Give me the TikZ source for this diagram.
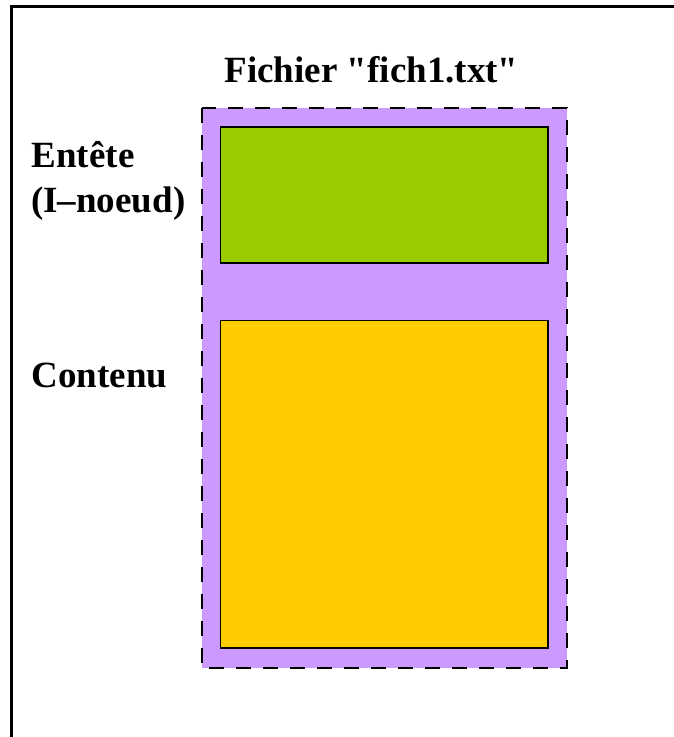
\documentclass[tikz,border=0pt]{standalone}
\usepackage{fontspec}
\setmainfont{Liberation Serif}
\definecolor{fichfond}{RGB}{204,153,255}
\definecolor{entetefond}{RGB}{153,204,0}
\definecolor{contenufond}{RGB}{255,204,0}
% guillemet droit, sans passer par le mapping tex-text
\newcommand{\dq}{\XeTeXglyph\XeTeXglyphindex "quotedbl"\relax}
\begin{document}
\begin{tikzpicture}[x=1pt,y=-1pt,
lbl/.style={inner sep=0pt,anchor=base west,font=\fontsize{37}{44}\selectfont\bfseries},
zone/.style={draw=black,line width=1.5pt}]
\useasboundingbox (0,0) rectangle (674,737);
% cadre
\draw[line width=3pt] (11.3,737)--(11.3,6.3)--(674,6.3);
% fichier
\filldraw[fill=fichfond,dash pattern=on 15pt off 12pt,line width=2pt] (202,108) rectangle (567,668);
\filldraw[zone,fill=entetefond] (220.5,127) rectangle (548,263);
\filldraw[zone,fill=contenufond] (220.5,320.5) rectangle (548,648);
% textes
\node[lbl,anchor=base] (titre) at (371.5,82) {Fichier \dq fich1.txt\dq};
\node[lbl] (entete) at (31.5,167.7) {Entête};
\node[lbl] (inoeud) at (31,212.7) {(I--noeud)};
\node[lbl] (contenu) at (31.5,387) {Contenu};
\end{tikzpicture}
\end{document}
